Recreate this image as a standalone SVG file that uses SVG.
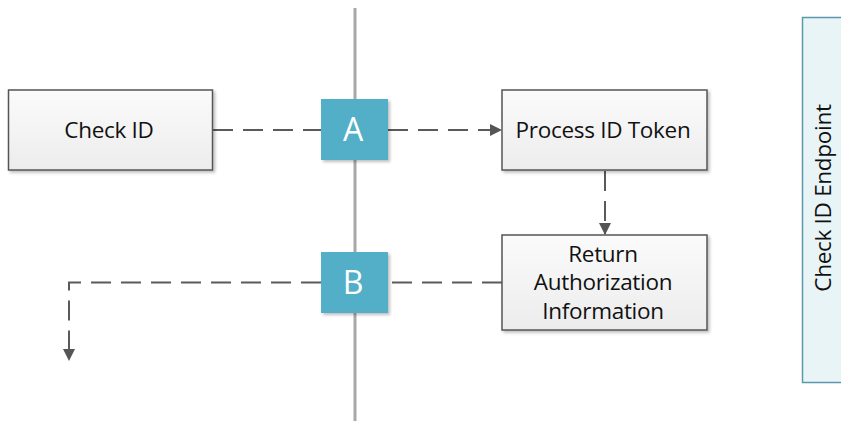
<svg xmlns="http://www.w3.org/2000/svg" width="841" height="422" viewBox="0 0 841 422">
<defs>
<linearGradient id="g" x1="0" y1="0" x2="0" y2="1"><stop offset="0" stop-color="#fbfbfb"/><stop offset="1" stop-color="#ececec"/></linearGradient>
<filter id="sh" x="-10%" y="-10%" width="130%" height="130%"><feDropShadow dx="2" dy="2" stdDeviation="1.5" flood-color="#000" flood-opacity="0.25"/></filter>
<marker id="ah" markerWidth="12" markerHeight="12" refX="11" refY="6" orient="auto" markerUnits="userSpaceOnUse"><path d="M0,0 L12,6 L0,12 Z" fill="#555"/></marker>
<style>
.box{fill:url(#g);stroke:#555;stroke-width:1.5;filter:url(#sh)}
.t{font-family:"Open Sans","Noto Sans",sans-serif;font-size:22.5px;fill:#111;text-anchor:middle;letter-spacing:-0.3px}
.sq{fill:#52afc8;filter:url(#sh)}
.sl{font-family:"Open Sans","Noto Sans",sans-serif;font-size:32px;fill:#fff;text-anchor:middle}
.c{fill:none;stroke:#5a5a5a;stroke-width:2;stroke-dasharray:20 10}
</style>
</defs>
<rect width="841" height="422" fill="#fff"/>
<g id="panel">
<rect x="802.5" y="17.5" width="45" height="365" fill="#e9f4f7" stroke="#5a98ad" stroke-width="1.5"/>
<text class="t" transform="translate(831,198) rotate(-90)">Check ID Endpoint</text>
</g>
<line x1="355" y1="8" x2="355" y2="421" stroke="#a8a8a8" stroke-width="3"/>
<g id="connectors">
<line class="c" x1="213" y1="130" x2="321" y2="130"/>
<line class="c" x1="388" y1="130" x2="501" y2="130" marker-end="url(#ah)"/>
<line class="c" x1="605" y1="171" x2="605" y2="234" marker-end="url(#ah)"/>
<line class="c" x1="502" y1="282.5" x2="388" y2="282.5"/>
<polyline class="c" points="321,282.5 69,282.5 69,360" marker-end="url(#ah)"/>
</g>
<g id="checkid">
<rect class="box" x="8.5" y="90" width="204" height="80"/>
<text class="t" x="109" y="138">Check ID</text>
</g>
<g id="process">
<rect class="box" x="502" y="90" width="205" height="80"/>
<text class="t" x="603" y="138">Process ID Token</text>
</g>
<g id="return">
<rect class="box" x="502" y="235" width="205" height="95"/>
<text class="t" x="603" y="262">Return</text>
<text class="t" x="603" y="290">Authorization</text>
<text class="t" x="603" y="319">Information</text>
</g>
<g id="A">
<rect class="sq" x="321" y="99" width="67" height="61"/>
<text class="sl" x="353" y="141">A</text>
</g>
<g id="B">
<rect class="sq" x="321" y="252" width="67" height="61"/>
<text class="sl" x="353" y="294">B</text>
</g>
</svg>
